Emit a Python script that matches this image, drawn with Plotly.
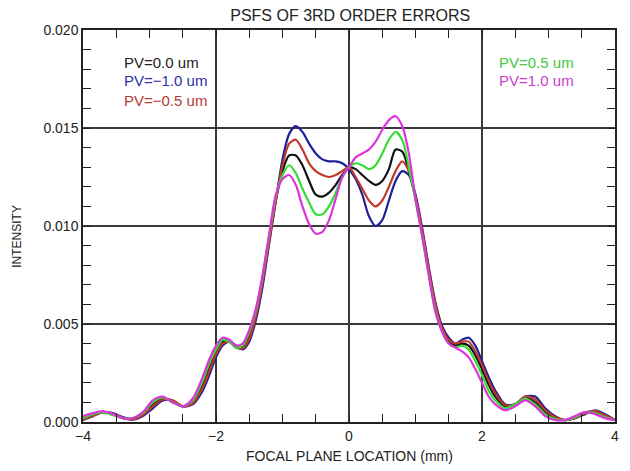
import plotly.graph_objects as go

# Focal plane location (mm)
x_mm = [-4.0, -3.85, -3.7, -3.55, -3.4, -3.25, -3.1, -2.95, -2.8, -2.65, -2.5, -2.35, -2.2,
        -2.1, -2.0, -1.9, -1.8, -1.7, -1.6, -1.5, -1.4, -1.3, -1.2, -1.1, -1.0, -0.9, -0.8,
        -0.7, -0.6, -0.5, -0.4, -0.3, -0.2, -0.1, 0.0, 0.1, 0.2, 0.3, 0.4, 0.5, 0.6, 0.7,
        0.8, 0.9, 1.0, 1.1, 1.2, 1.3, 1.4, 1.5, 1.6, 1.7, 1.8, 1.9, 2.0, 2.1,
        2.2, 2.35, 2.5, 2.65, 2.8, 2.95, 3.1, 3.25, 3.4, 3.55, 3.7, 3.85, 4.0]

pv_0_0 = [0.00015, 0.00035, 0.0005, 0.0004, 0.0002, 0.00015, 0.0004, 0.0009, 0.0012, 0.00105, 0.0008, 0.0010, 0.0019,
          0.0028, 0.0036, 0.0041, 0.0041, 0.0038, 0.0038, 0.0044, 0.0055, 0.0072, 0.0093, 0.0113, 0.0128, 0.0136, 0.0136,
          0.0131, 0.0123, 0.0116, 0.0115, 0.0117, 0.0121, 0.0126, 0.0130, 0.0129, 0.0126, 0.0123, 0.0121, 0.0123, 0.0129, 0.0139,
          0.0138, 0.0128, 0.0114, 0.0096, 0.0076, 0.0058, 0.0047, 0.0041, 0.0039, 0.0040, 0.0039, 0.0034, 0.0027, 0.0019,
          0.0013, 0.0008, 0.0009, 0.00125, 0.0010, 0.0005, 0.0002, 0.0001, 0.0002, 0.0005, 0.0005, 0.0003, 0.0001]

pv_m1_0 = [0.0001, 0.0003, 0.0005, 0.00045, 0.00025, 0.00012, 0.0003, 0.0007, 0.0011, 0.0011, 0.0008, 0.0009, 0.0016,
           0.0024, 0.0033, 0.0039, 0.0041, 0.0039, 0.0037, 0.0041, 0.0052, 0.0069, 0.0091, 0.0113, 0.0134, 0.0147, 0.0151,
           0.0148, 0.0142, 0.0137, 0.0134, 0.0133, 0.0133, 0.0132, 0.0129, 0.0124, 0.0116, 0.0105, 0.0100, 0.0103, 0.0113, 0.0123,
           0.0128, 0.0126, 0.0116, 0.0099, 0.0079, 0.0061, 0.0049, 0.0043, 0.0040, 0.0042, 0.0043, 0.0039, 0.0031, 0.0023,
           0.0016, 0.0009, 0.0009, 0.0013, 0.0013, 0.0007, 0.0003, 0.0001, 0.0002, 0.0004, 0.0006, 0.0004, 0.0001]

pv_m0_5 = [0.00012, 0.00032, 0.0005, 0.00042, 0.00022, 0.00013, 0.00035, 0.0008, 0.00115, 0.0011, 0.0008, 0.00095, 0.00175,
           0.0026, 0.00345, 0.0040, 0.0041, 0.00385, 0.00375, 0.00425, 0.0054, 0.0071, 0.0092, 0.0113, 0.0131, 0.0142, 0.0144,
           0.0139, 0.0132, 0.0128, 0.0126, 0.0125, 0.0126, 0.0128, 0.0130, 0.0125, 0.0119, 0.0113, 0.0110, 0.0113, 0.0120, 0.0128,
           0.0133, 0.0128, 0.0115, 0.0098, 0.0078, 0.0060, 0.0048, 0.0042, 0.0040, 0.0041, 0.0041, 0.0036, 0.0029, 0.0021,
           0.00145, 0.00085, 0.0009, 0.0013, 0.00115, 0.0006, 0.00025, 0.0001, 0.0002, 0.00045, 0.00055, 0.00035, 0.0001]

pv_0_5 = [0.0002, 0.0004, 0.0005, 0.00035, 0.0002, 0.0002, 0.00045, 0.0010, 0.00125, 0.0010, 0.0008, 0.0011, 0.0021,
          0.0030, 0.0037, 0.0042, 0.0041, 0.0038, 0.0039, 0.0046, 0.0057, 0.0074, 0.0095, 0.0115, 0.0126, 0.0131, 0.0127,
          0.0119, 0.0112, 0.0106, 0.0106, 0.0110, 0.0117, 0.0125, 0.0130, 0.0132, 0.0131, 0.0129, 0.0131, 0.0137, 0.0144, 0.0148,
          0.0144, 0.0130, 0.0113, 0.0095, 0.0075, 0.0057, 0.0046, 0.0040, 0.0038, 0.0039, 0.0037, 0.0031, 0.0024, 0.0016,
          0.0011, 0.0007, 0.0009, 0.0012, 0.0009, 0.0004, 0.00015, 0.0001, 0.00025, 0.0005, 0.00045, 0.00025, 0.0001]

pv_1_0 = [0.0003, 0.00045, 0.00055, 0.0004, 0.0002, 0.0002, 0.0005, 0.0011, 0.0013, 0.0010, 0.0008, 0.0012, 0.0023,
          0.0032, 0.0039, 0.0043, 0.0042, 0.0039, 0.0040, 0.0047, 0.0058, 0.0075, 0.0096, 0.0116, 0.0124, 0.0126, 0.0121,
          0.0110, 0.0101, 0.0096, 0.0097, 0.0103, 0.0114, 0.0125, 0.0130, 0.0135, 0.0137, 0.0139, 0.0143, 0.0149, 0.0154, 0.0156,
          0.0151, 0.0137, 0.0114, 0.0095, 0.0075, 0.0056, 0.0046, 0.0040, 0.0038, 0.0036, 0.0033, 0.0027, 0.0020, 0.0013,
          0.0009, 0.0006, 0.0008, 0.0011, 0.0008, 0.0003, 0.0001, 0.0001, 0.0003, 0.0005, 0.0004, 0.0002, 0.0001]

series = [
    ("PV=0.0 um", pv_0_0, "#111111"),
    ("PV=\u22121.0 um", pv_m1_0, "#1f1f98"),
    ("PV=\u22120.5 um", pv_m0_5, "#c0392b"),
    ("PV=0.5 um", pv_0_5, "#33dd33"),
    ("PV=1.0 um", pv_1_0, "#dd33dd"),
]

label_colors = ["#222222", "#2f2fa0", "#b23c32", "#3fc83f", "#c83fc8"]
label_pos = [(0.073, 0.918), (0.073, 0.871), (0.073, 0.821), (0.778, 0.918), (0.778, 0.870)]

fig = go.Figure()
for name, ys, col in series:
    fig.add_trace(go.Scatter(x=x_mm, y=ys, mode="lines", name=name,
                             line=dict(color=col, width=2.2, shape="spline", smoothing=0.8),
                             showlegend=False))

annotations = []
for (name, _, _), tc, (px, py) in zip(series, label_colors, label_pos):
    annotations.append(dict(text=name, x=px, y=py, xref="paper", yref="paper",
                            xanchor="left", yanchor="middle", showarrow=False,
                            font=dict(family="Liberation Sans", size=15, color=tc)))
annotations.append(dict(text="FOCAL PLANE LOCATION (mm)", x=0.5, y=-0.088, xref="paper", yref="paper",
                        xanchor="center", yanchor="middle", showarrow=False,
                        font=dict(family="Liberation Sans", size=14, color="#222222")))
annotations.append(dict(text="INTENSITY", x=-0.123, y=0.474, xref="paper", yref="paper",
                        xanchor="center", yanchor="middle", showarrow=False, textangle=-90,
                        font=dict(family="Liberation Sans", size=12, color="#222222")))

axis_common = dict(showline=True, linecolor="#222222", linewidth=1.5, mirror="ticks",
                   ticks="inside", ticklen=8, tickcolor="#222222", tickwidth=1.2,
                   showgrid=True, gridcolor="#3a3a3a", gridwidth=1.5, zeroline=False,
                   tickfont=dict(family="Liberation Sans", size=14, color="#222222"))

fig.update_layout(
    width=630, height=471,
    margin=dict(l=83, r=11, t=30, b=49),
    paper_bgcolor="white", plot_bgcolor="white",
    title=dict(text="PSFS OF 3RD ORDER ERRORS", x=0.556, xanchor="center", y=0.968, yanchor="middle",
               font=dict(family="Liberation Sans", size=16, color="#222222")),
    annotations=annotations,
    xaxis=dict(range=[-4, 4], tickvals=[-4, -2, 0, 2, 4],
               minor=dict(dtick=0.5, ticks="inside", ticklen=8, tickcolor="#222222", showgrid=False),
               **axis_common),
    yaxis=dict(range=[0, 0.020], tickvals=[0, 0.005, 0.010, 0.015, 0.020], tickformat=".3f",
               minor=dict(dtick=0.001, ticks="inside", ticklen=8, tickcolor="#222222", showgrid=False),
               **axis_common),
)

fig.write_html("out.html", config={"displayModeBar": False},
               post_script="document.body.style.margin='0';document.body.style.padding='0';")
